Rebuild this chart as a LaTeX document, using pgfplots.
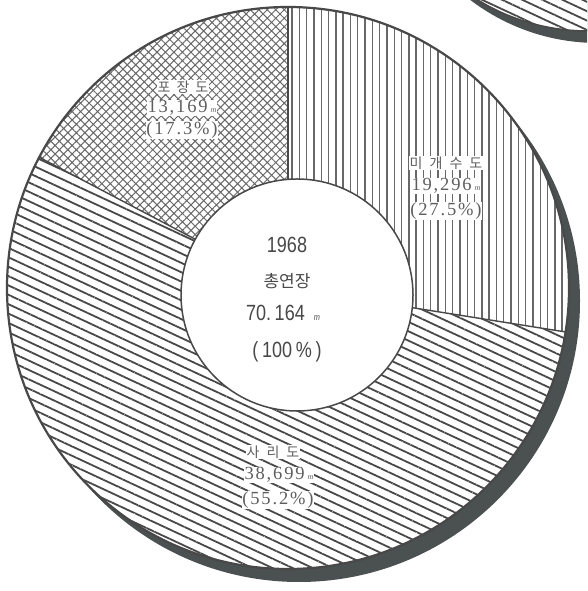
\documentclass[border=0pt]{standalone}
\usepackage{pgfplots}
\pgfplotsset{compat=1.18}
\usepackage{pgfplotstable}
\usepackage{fontspec}
\usetikzlibrary{patterns.meta}
\setmainfont{Liberation Serif}
\newfontfamily\num[LetterSpace=10]{Liberation Serif}
\newfontfamily\kr{Noto Sans CJK KR}
\newfontfamily\cond[FakeStretch=0.82]{Liberation Sans}
\definecolor{shadow}{HTML}{4B5150}
\definecolor{ink}{HTML}{484848}
\definecolor{hatch}{HTML}{686868}
\definecolor{txt}{HTML}{5E5E5E}

% road length 1968 (m, share in %)
\pgfplotstableread{
name    value pct
paved   13169 17.3
unpaved 19296 27.5
gravel  38699 55.2
}\roads

% one label line, y measured downward from the top
\newcommand{\lbl}[3]{\node[fill=white, inner sep=0.8pt, text=txt,
  font=\num\fontsize{18.5}{18.5}\selectfont] at (axis cs:#1,-#2) {#3};}
\newcommand{\unit}{\,{\fontsize{8}{8}\selectfont\itshape m}}
\newcommand{\ko}[1]{{\kr\fontsize{14}{14}\selectfont #1}}

\begin{document}
\begin{tikzpicture}
\pgfplotstablegetelem{0}{pct}\of\roads \let\pP\pgfplotsretval
\pgfplotstablegetelem{1}{pct}\of\roads \let\pU\pgfplotsretval
\pgfplotstablegetelem{2}{pct}\of\roads \let\pG\pgfplotsretval
\pgfmathsetmacro\aA{90-3.6*\pU}
\pgfmathsetmacro\aB{\aA-3.6*\pG}
\pgfmathsetmacro\aC{\aB-3.6*\pP}
\begin{axis}[name=ax, x=1pt, y=1pt, xmin=0, xmax=587, ymin=-591, ymax=0,
  hide axis, clip=true]

% neighbouring chart, top right corner
\fill[shadow] (axis cs:598,168) circle[radius=211pt];
\fill[white] (axis cs:588,180) circle[radius=211pt];
\fill[pattern={Lines[angle=-25, distance=8.5pt, line width=1.8pt]}, pattern color=ink]
  (axis cs:588,180) circle[radius=211pt];
\draw[ink, line width=1.5pt] (axis cs:588,180) circle[radius=211pt];

% shadow and disk
\fill[shadow] (axis cs:299,-301) circle[radius=281pt];
\fill[white] (axis cs:288,-288) circle[radius=281pt];

% unpaved: vertical lines
\fill[pattern={Lines[angle=90, distance=7.3pt, line width=1.4pt]}, pattern color=hatch]
  (axis cs:288,-288) -- +(90:281pt) arc[start angle=90, end angle=\aA, radius=281pt] -- cycle;
% gravel: slanted lines
\fill[pattern={Lines[angle=-25, distance=8.5pt, line width=1.8pt]}, pattern color=ink]
  (axis cs:288,-288) -- +(\aA:281pt) arc[start angle=\aA, end angle=\aB, radius=281pt] -- cycle;
% paved: cross hatch
\fill[pattern={Hatch[angle=45, distance=6pt, line width=1pt]}, pattern color=hatch]
  (axis cs:288,-288) -- +(\aB:281pt) arc[start angle=\aB, end angle=\aC, radius=281pt] -- cycle;

\draw[ink, line width=1.4pt] (axis cs:288,-288) -- +(90:281pt);
\draw[ink, line width=1.4pt] (axis cs:288,-288) -- +(\aA:281pt);
\draw[ink, line width=1.4pt] (axis cs:288,-288) -- +(\aB:281pt);
\draw[ink, line width=2.2pt] (axis cs:288,-288) circle[radius=281pt];

% centre
\filldraw[fill=white, draw=ink, line width=1.5pt] (axis cs:297,-295) circle[radius=116pt];
\node[text=ink, font=\cond\fontsize{22}{22}\selectfont] at (axis cs:287,-245) {1968};
\node[text=ink, font=\kr\fontsize{17}{17}\selectfont] at (axis cs:287,-281) {총연장};
\node[text=ink, font=\cond\fontsize{22}{22}\selectfont] at (axis cs:283,-313) {70.\,164\hspace{9pt}{\fontsize{9}{9}\selectfont\itshape m}};
\node[text=ink, font=\cond\fontsize{22}{22}\selectfont] at (axis cs:287,-352) {(\,100\,\%\,)};

% slice labels
\lbl{183}{87}{\ko{포\hspace{6pt}장\hspace{6pt}도}}
\lbl{182}{108}{13,169\unit}
\lbl{182}{130}{(17.3\%)}
\lbl{446}{163}{\ko{미\hspace{7pt}개\hspace{7pt}수\hspace{7pt}도}}
\lbl{446}{186}{19,296\unit}
\lbl{446}{211}{(27.5\%)}
\lbl{273}{452}{\ko{사\hspace{7pt}리\hspace{7pt}도}}
\lbl{279}{475}{38,699\unit}
\lbl{278}{500}{(55.2\%)}
\end{axis}
\pgfresetboundingbox
\path (ax.south west) rectangle (ax.north east);
\end{tikzpicture}
\end{document}
